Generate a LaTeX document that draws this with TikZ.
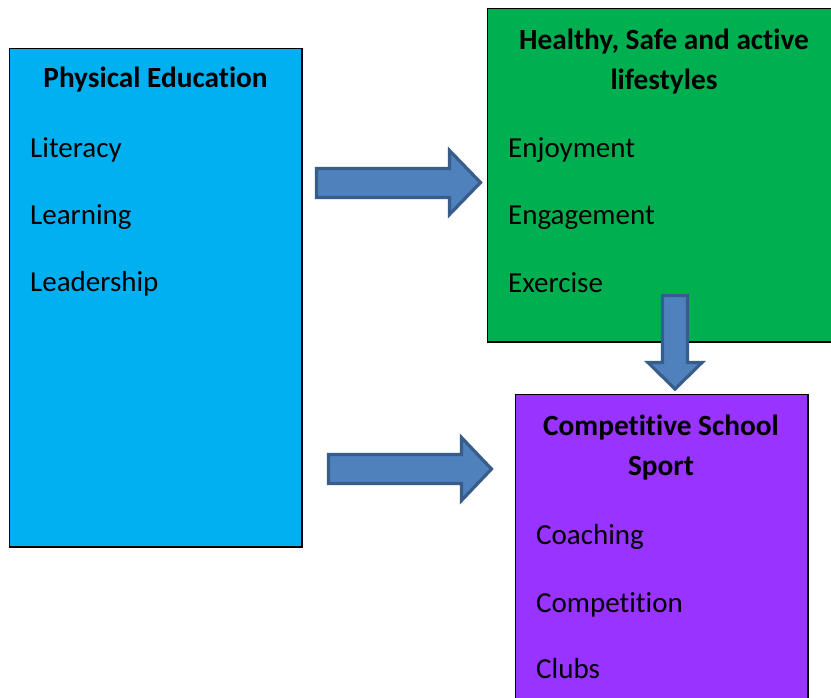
\documentclass[tikz,border=0pt]{standalone}
\usepackage{fontspec}
\setmainfont{Carlito}[Ligatures={NoCommon,NoContextual}]
\definecolor{peblue}{HTML}{00B0F0}
\definecolor{hsgreen}{HTML}{00B050}
\definecolor{cspurple}{HTML}{9933FF}
\definecolor{arrfill}{HTML}{4F81BD}
\definecolor{arrline}{HTML}{385D8A}
\begin{document}
\begin{tikzpicture}[x=1pt,y=-1pt,
  panel/.style={draw=black,line width=1.5pt},
  blockarrow/.style={fill=arrfill,draw=arrline,line width=3.2pt,line join=miter},
  title/.style={font=\fontsize{29.3}{41}\selectfont\bfseries,anchor=base,inner sep=0pt},
  item/.style={font=\fontsize{29}{35}\selectfont,anchor=base west,inner sep=0pt}]
\clip (0,0) rectangle (831,697);
\fill[white] (0,0) rectangle (831,697);
% boxes
\filldraw[panel,fill=peblue] (9.5,48.5) rectangle (302,547);
\filldraw[panel,fill=hsgreen] (487.5,8.5) rectangle (845,342);
\filldraw[panel,fill=cspurple] (515.5,394.5) rectangle (808,720);
% titles
\node[title] (pe) at (155.5,87) {Physical Education};
\node[title] (hs1) at (664,49) {Healthy, Safe and active};
\node[title] (hs2) at (664,89) {lifestyles};
\node[title] (cs1) at (661,435) {Competitive School};
\node[title] (cs2) at (661,475) {Sport};
% items
\node[item] (lit) at (30,157) {Literacy};
\node[item] (lea) at (30,224) {Learning};
\node[item] (lead) at (30,291) {Leadership};
\node[item] (enj) at (508,157) {Enjoyment};
\node[item] (eng) at (508,224) {Engagement};
\node[item] (exe) at (508,292) {Exercise};
\node[item] (coa) at (536,544) {Coaching};
\node[item] (com) at (536,612) {Competition};
\node[item] (clu) at (536,678) {Clubs};
% arrows
\draw[blockarrow] (316.5,168.5) -- (449.5,168.5) -- (449.5,150.5) -- (480.5,182.5)
  -- (449.5,214.5) -- (449.5,197.5) -- (316.5,197.5) -- cycle;
\draw[blockarrow] (328.5,454.5) -- (461.5,454.5) -- (461.5,437.5) -- (491.5,469)
  -- (461.5,500.5) -- (461.5,483.5) -- (328.5,483.5) -- cycle;
\draw[blockarrow] (662.5,295.5) -- (687.5,295.5) -- (687.5,362.5) -- (702,362.5)
  -- (675,389) -- (648,362.5) -- (662.5,362.5) -- cycle;
\end{tikzpicture}
\end{document}
